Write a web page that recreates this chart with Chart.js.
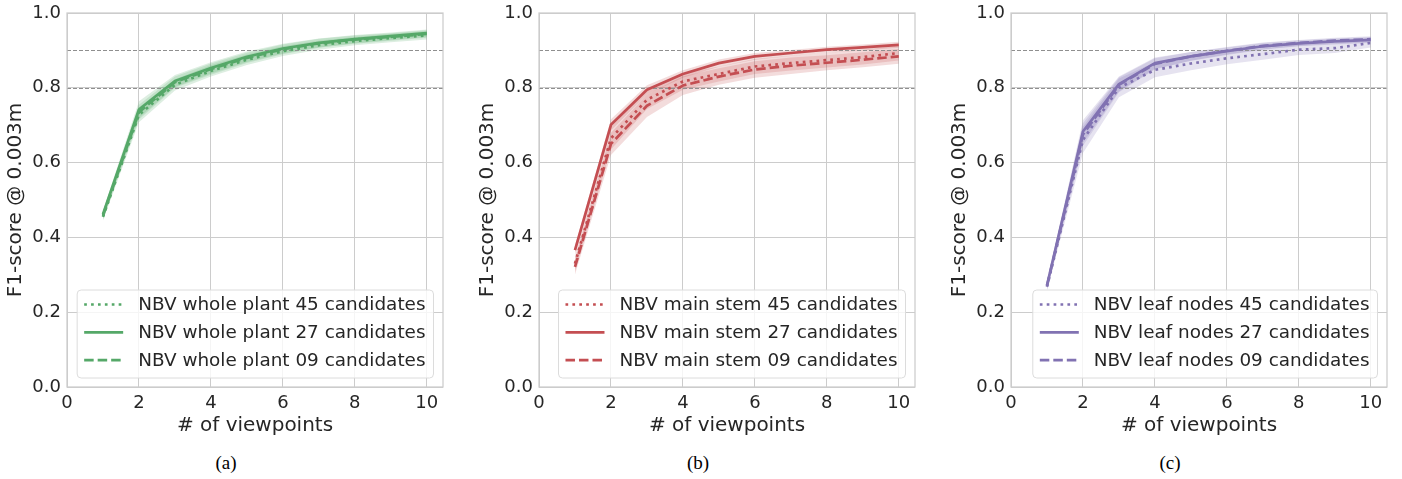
<!DOCTYPE html>
<html>
<head>
<meta charset="utf-8">
<script src="https://cdn.jsdelivr.net/npm/chart.js@4.4.1/dist/chart.umd.min.js"></script>
<style>
  html, body { margin: 0; padding: 0; background: #fff; }
  #wrap { position: relative; width: 1402px; height: 479px; overflow: hidden; }
  .panel { position: absolute; top: 0; width: 472px; height: 440px; }
  .caption { position: absolute; top: 452px; width: 60px; margin-left: -30px; text-align: center;
             font-family: "Liberation Serif", "DejaVu Serif", serif; font-size: 19px; color: #000; }
</style>
</head>
<body>
<div id="wrap">
  <div class="panel" style="left:0px"><canvas id="chartA" width="472" height="440"></canvas></div>
  <div class="panel" style="left:472px"><canvas id="chartB" width="472" height="440"></canvas></div>
  <div class="panel" style="left:944px"><canvas id="chartC" width="472" height="440"></canvas></div>
  <div class="caption" style="left:226px">(a)</div>
  <div class="caption" style="left:698px">(b)</div>
  <div class="caption" style="left:1170px">(c)</div>
</div>
<script>
// x values shared by every panel
const viewpoints = [1, 2, 3, 4, 5, 6, 7, 8, 9, 10];
const xTicks = [0, 2, 4, 6, 8, 10];
const yTicks = [0, 0.2, 0.4, 0.6, 0.8, 1.0];
const refLevels = [0.8, 0.9];

// (a) whole plant
const wholePlant45 = [0.455, 0.728, 0.808, 0.845, 0.875, 0.898, 0.914, 0.925, 0.933, 0.940];
const wholePlant27 = [0.462, 0.742, 0.818, 0.853, 0.883, 0.905, 0.920, 0.930, 0.938, 0.946];
const wholePlant09 = [0.458, 0.735, 0.815, 0.850, 0.880, 0.903, 0.919, 0.929, 0.936, 0.944];
const wholePlant45Sd = [0.010, 0.020, 0.015, 0.015, 0.014, 0.013, 0.012, 0.011, 0.011, 0.011];
const wholePlant27Sd = [0.010, 0.022, 0.016, 0.015, 0.014, 0.013, 0.012, 0.011, 0.010, 0.010];
const wholePlant09Sd = [0.010, 0.020, 0.015, 0.015, 0.014, 0.013, 0.012, 0.011, 0.010, 0.010];

// (b) main stem
const mainStem45 = [0.330, 0.665, 0.768, 0.817, 0.837, 0.857, 0.866, 0.874, 0.882, 0.893];
const mainStem27 = [0.366, 0.701, 0.795, 0.837, 0.866, 0.884, 0.893, 0.902, 0.908, 0.915];
const mainStem09 = [0.321, 0.650, 0.752, 0.806, 0.830, 0.849, 0.859, 0.867, 0.875, 0.884];
const mainStem45Sd = [0.020, 0.030, 0.025, 0.022, 0.020, 0.020, 0.020, 0.020, 0.020, 0.020];
const mainStem27Sd = [0.012, 0.015, 0.012, 0.010, 0.010, 0.009, 0.008, 0.008, 0.008, 0.008];
const mainStem09Sd = [0.020, 0.030, 0.030, 0.025, 0.022, 0.022, 0.022, 0.020, 0.020, 0.020];

// (c) leaf nodes
const leafNodes45 = [0.268, 0.661, 0.800, 0.848, 0.865, 0.879, 0.890, 0.902, 0.906, 0.920];
const leafNodes27 = [0.272, 0.683, 0.810, 0.866, 0.884, 0.898, 0.911, 0.919, 0.924, 0.928];
const leafNodes09 = [0.270, 0.675, 0.808, 0.864, 0.884, 0.899, 0.912, 0.920, 0.926, 0.930];
const leafNodes45Sd = [0.010, 0.035, 0.025, 0.020, 0.018, 0.016, 0.015, 0.014, 0.013, 0.012];
const leafNodes27Sd = [0.010, 0.030, 0.020, 0.015, 0.012, 0.010, 0.009, 0.008, 0.008, 0.008];
const leafNodes09Sd = [0.010, 0.030, 0.020, 0.015, 0.012, 0.010, 0.009, 0.008, 0.008, 0.008];

const TEXT = '#262626';
const GRID = '#cccccc';
const FONT = '"DejaVu Sans", "Liberation Sans", sans-serif';

// line styles, legend order: 45 dotted, 27 solid, 09 dashed
const dashDotted = [2.7, 4.2];
const dashSolid = [];
const dashDashed = [9.5, 4];

Chart.defaults.font.family = FONT;
Chart.defaults.color = TEXT;

function alpha(hex, a) {
  const n = parseInt(hex.slice(1), 16);
  return `rgba(${(n >> 16) & 255},${(n >> 8) & 255},${n & 255},${a})`;
}

// dashed reference lines + light frame round the plot
const refLinesPlugin = {
  id: 'refLines',
  beforeDatasetsDraw(chart) {
    const {ctx, chartArea, scales} = chart;
    ctx.save();
    ctx.strokeStyle = '#8f8f8f';
    ctx.lineWidth = 1;
    ctx.setLineDash([4, 2]);
    refLevels.forEach(v => {
      const y = Math.round(scales.y.getPixelForValue(v)) + 0.5;
      ctx.beginPath();
      ctx.moveTo(chartArea.left, y);
      ctx.lineTo(chartArea.right, y);
      ctx.stroke();
    });
    ctx.restore();
  },
  afterDraw(chart) {
    const {ctx, chartArea} = chart;
    ctx.save();
    ctx.strokeStyle = GRID;
    ctx.lineWidth = 1.25;
    ctx.strokeRect(chartArea.left, chartArea.top, chartArea.right - chartArea.left, chartArea.bottom - chartArea.top);
    ctx.restore();
  }
};

// matplotlib-like legend in the lower right corner
const legendBoxPlugin = {
  id: 'legendBox',
  afterDatasetsDraw(chart) {
    const {ctx, chartArea} = chart;
    const items = chart.data.datasets.filter(d => !d.isBand);
    ctx.save();
    ctx.font = `18.4px ${FONT}`;
    const tw = Math.max(...items.map(d => ctx.measureText(d.label).width));
    const w = 7 + 39 + 15 + tw + 8;
    const h = 88;
    const x = chartArea.right - 9.5 - w;
    const y = chartArea.bottom - 9 - h;
    ctx.beginPath();
    ctx.roundRect(x, y, w, h, 4);
    ctx.fillStyle = 'rgba(255,255,255,0.8)';
    ctx.fill();
    ctx.strokeStyle = '#dcdcdc';
    ctx.lineWidth = 1;
    ctx.stroke();
    items.forEach((d, i) => {
      const ry = y + 14.5 + i * 27.8;
      ctx.beginPath();
      ctx.setLineDash(d.borderDash);
      ctx.lineCap = 'butt';
      ctx.moveTo(x + 7, ry);
      ctx.lineTo(x + 46, ry);
      ctx.strokeStyle = d.borderColor;
      ctx.lineWidth = 2.7;
      ctx.stroke();
      ctx.setLineDash([]);
      ctx.fillStyle = TEXT;
      ctx.textBaseline = 'middle';
      ctx.textAlign = 'left';
      ctx.fillText(d.label, x + 61, ry + 1);
    });
    ctx.restore();
  }
};

function makeChart(canvasId, color, name, series, spreads) {
  const dashes = [dashDotted, dashSolid, dashDashed];
  const counts = ['45', '27', '09'];
  const datasets = [];
  series.forEach((s, i) => {
    datasets.push({
      label: `NBV ${name} ${counts[i]} candidates`,
      data: viewpoints.map((x, k) => ({x, y: s[k]})),
      borderColor: color,
      borderWidth: 2.7,
      borderDash: dashes[i],
      borderCapStyle: 'butt',
      borderJoinStyle: 'round',
      pointRadius: 0,
      fill: false,
      order: 0
    });
  });
  series.forEach((s, i) => {
    datasets.push({
      isBand: true,
      data: viewpoints.map((x, k) => ({x, y: s[k] + spreads[i][k]})),
      borderColor: 'transparent',
      borderWidth: 0,
      pointRadius: 0,
      backgroundColor: alpha(color, 0.2),
      fill: '+1',
      order: 5
    });
    datasets.push({
      isBand: true,
      data: viewpoints.map((x, k) => ({x, y: s[k] - spreads[i][k]})),
      borderColor: 'transparent',
      borderWidth: 0,
      pointRadius: 0,
      fill: false,
      order: 5
    });
  });

  return new Chart(document.getElementById(canvasId), {
    type: 'line',
    data: {datasets},
    options: {
      responsive: false,
      animation: false,
      devicePixelRatio: 1,
      events: [],
      layout: {padding: {left: 0, top: 13, right: 29, bottom: 0}},
      plugins: {
        legend: {display: false},
        tooltip: {enabled: false},
        filler: {drawTime: 'beforeDatasetsDraw'}
      },
      scales: {
        x: {
          type: 'linear',
          min: 0,
          max: 10.45,
          afterFit(scale) { scale.height = 53; },
          afterBuildTicks(scale) { scale.ticks = xTicks.map(v => ({value: v})); },
          grid: {color: GRID, lineWidth: 1, drawTicks: false},
          border: {display: false},
          ticks: {font: {size: 18}, color: TEXT, padding: 6, maxRotation: 0,
                  callback: v => String(v)},
          title: {display: true, text: '# of viewpoints', font: {size: 20}, color: TEXT,
                  padding: {top: 0, bottom: 2}}
        },
        y: {
          type: 'linear',
          min: 0,
          max: 1,
          afterFit(scale) { scale.width = 67; },
          afterBuildTicks(scale) { scale.ticks = yTicks.map(v => ({value: v})); },
          grid: {color: GRID, lineWidth: 1, drawTicks: false},
          border: {display: false},
          // small lineHeight so the top label does not push the plot area down
          ticks: {font: {size: 18, lineHeight: 0.6}, color: TEXT, padding: 6,
                  callback: v => Number(v).toFixed(1)},
          title: {display: true, text: 'F1-score @ 0.003m', font: {size: 20}, color: TEXT,
                  padding: {top: 4, bottom: 0}}
        }
      }
    },
    plugins: [refLinesPlugin, legendBoxPlugin]
  });
}

makeChart('chartA', '#55a868', 'whole plant',
  [wholePlant45, wholePlant27, wholePlant09],
  [wholePlant45Sd, wholePlant27Sd, wholePlant09Sd]);
makeChart('chartB', '#c44e52', 'main stem',
  [mainStem45, mainStem27, mainStem09],
  [mainStem45Sd, mainStem27Sd, mainStem09Sd]);
makeChart('chartC', '#8172b2', 'leaf nodes',
  [leafNodes45, leafNodes27, leafNodes09],
  [leafNodes45Sd, leafNodes27Sd, leafNodes09Sd]);
</script>
</body>
</html>
